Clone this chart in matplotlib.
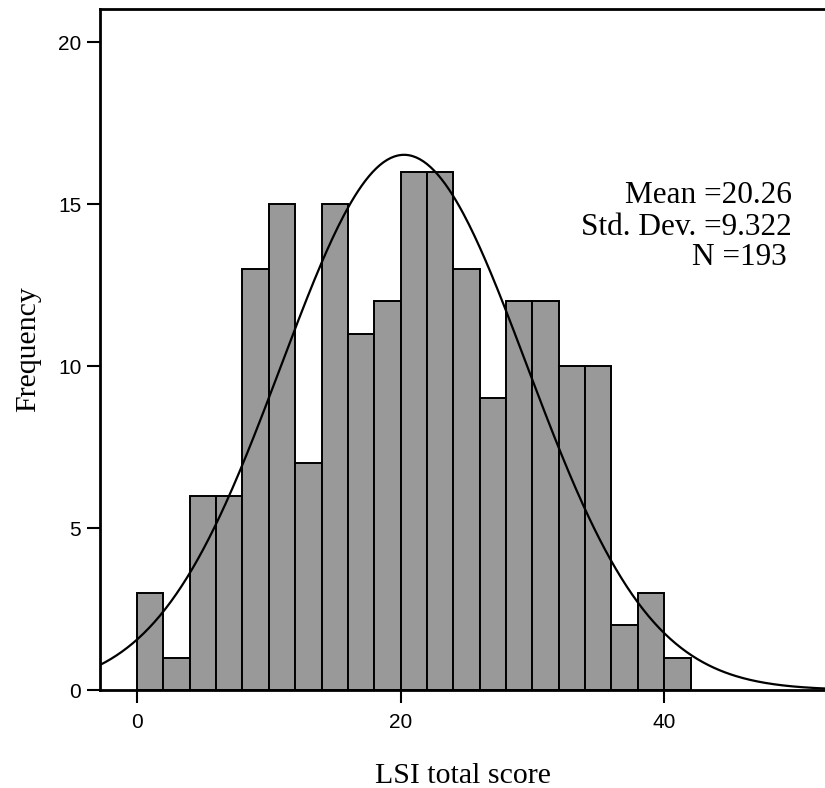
import numpy as np
import matplotlib
matplotlib.use('Agg')
import matplotlib.pyplot as plt

# histogram of LSI total score, bins of width 2 from 0 to 42
bin_edges = np.arange(0, 44, 2)
counts = [3, 1, 6, 6, 13, 15, 7, 15, 11, 12, 16, 16, 13, 9, 12, 12, 10, 10, 2, 3, 1]
mean = 20.26
sd = 9.322
n = 193

W, H = 825, 788
fig = plt.figure(figsize=(W / 100, H / 100), dpi=100)
# axes box in pixels: left 100, top 9, bottom 690, right runs off the figure
ax = fig.add_axes([100 / W, 1 - 690 / H, 1 - 100 / W, (690 - 9) / H])

ax.bar(bin_edges[:-1], counts, width=2, align='edge',
       color='#999999', edgecolor='black', linewidth=1.4, zorder=2)

xmin, xmax = -2.81, 52.2
xs = np.linspace(xmin, xmax, 400)
ys = n * 2 / (sd * np.sqrt(2 * np.pi)) * np.exp(-0.5 * ((xs - mean) / sd) ** 2)
ax.plot(xs, ys, color='black', lw=1.6, zorder=3)

ax.set_xlim(xmin, xmax)
ax.set_ylim(0, 21.02)
ax.set_xticks([0, 20, 40])
ax.set_yticks([0, 5, 10, 15, 20])

for s in ['left', 'top', 'bottom']:
    ax.spines[s].set_linewidth(2)
ax.spines['right'].set_visible(False)

ax.tick_params(direction='out', length=9.5, width=1.5, labelsize=15)
ax.tick_params(axis='x', pad=7)
ax.tick_params(axis='y', pad=4)
for lab in ax.get_xticklabels() + ax.get_yticklabels():
    lab.set_family('Liberation Sans')

serif = 'Liberation Serif'
ax.set_xlabel('LSI total score', family=serif, fontsize=21.5)
ax.set_ylabel('Frequency', family=serif, fontsize=21.5, labelpad=12)
ax.xaxis.set_label_coords(0.5, -(783 - 690) / (690 - 9), transform=ax.transAxes)
ax.xaxis.label.set_va('baseline')

# summary stats, right-aligned like SPSS
px = lambda x, y: fig.transFigure.inverted().transform((x, H - y))
for txt, xr, yb in [('Mean =20.26', 792, 203), ('Std. Dev. =9.322', 792, 235), ('N =193', 787, 265)]:
    fx, fy = px(xr, yb)
    fig.text(fx, fy, txt, ha='right', va='baseline', family=serif, fontsize=22.5)

plt.savefig('out.png', dpi=100)
